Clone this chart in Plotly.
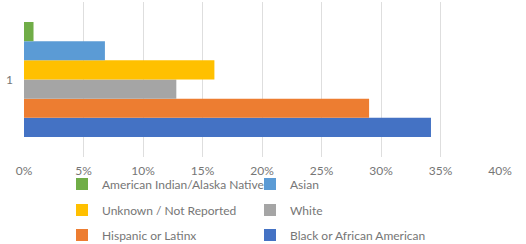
import plotly.graph_objects as go

category = ["1"]
series_names = [
    "Black or African American",
    "Hispanic or Latinx",
    "White",
    "Unknown / Not Reported",
    "Asian",
    "American Indian/Alaska Native",
]
series_values = [0.342, 0.290, 0.128, 0.160, 0.068, 0.008]
series_colors = ["#4472C4", "#ED7D31", "#A5A5A5", "#FFC000", "#5B9BD5", "#70AD47"]
legend_ids = ["legend3", "legend3", "legend2", "legend2", "legend", "legend"]
legend_ranks = [2, 1, 2, 1, 2, 1]
x_tick_vals = [0, 0.05, 0.10, 0.15, 0.20, 0.25, 0.30, 0.35, 0.40]

FONT = dict(family="Lato, Carlito, Calibri, sans-serif", size=12, color="#767676")

fig = go.Figure()
for name, val, col, lg, rk in zip(series_names, series_values, series_colors, legend_ids, legend_ranks):
    fig.add_trace(go.Bar(
        x=[val], y=category, orientation="h", name=name,
        marker=dict(color=col, line=dict(width=0)),
        legend=lg, legendrank=rk,
    ))

def leg(y):
    return dict(orientation="h", x=(62 - 24) / 476, xanchor="left", y=y, yanchor="middle",
                entrywidth=143, font=FONT, bgcolor="rgba(0,0,0,0)",
                itemclick=False, itemdoubleclick=False)

fig.update_layout(
    width=526, height=244,
    margin=dict(l=24, r=26, t=2, b=87, autoexpand=False),
    paper_bgcolor="white", plot_bgcolor="white",
    barmode="group", bargap=0.258, bargroupgap=0,
    font=FONT,
    showlegend=True,
    legend=leg((157 - 184) / 155),
    legend2=leg((157 - 210) / 155),
    legend3=leg((157 - 235) / 155),
    xaxis=dict(range=[0, 0.4], tickvals=x_tick_vals, tickformat=".0%",
               showgrid=True, gridcolor="#DEDEDE", gridwidth=1,
               zeroline=False, showline=False, ticks="", ticklabelstandoff=5,
               automargin=False, fixedrange=True),
    yaxis=dict(type="category", showgrid=False, zeroline=False, showline=False,
               ticks="", ticklabelstandoff=10, automargin=False, fixedrange=True),
)

fig.write_html(
    "out.html",
    config={"displayModeBar": False},
    post_script="document.body.style.margin='0';document.body.style.overflow='hidden';",
)
